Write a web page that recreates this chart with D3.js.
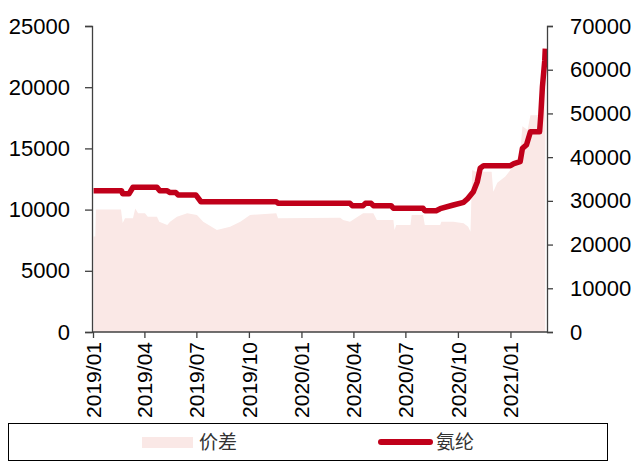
<!DOCTYPE html>
<html><head><meta charset="utf-8">
<script src="https://cdn.jsdelivr.net/npm/d3@7"></script>
<style>body{margin:0;background:#fff}svg{display:block}</style>
</head><body>
<svg id="c" width="632" height="466"></svg>
<script>
// 价差 (left axis) : [date, value]
const spreadDates = ["2019-01-02","2019-01-05","2019-01-06","2019-02-19","2019-02-22","2019-02-26","2019-03-12","2019-03-16","2019-03-21","2019-04-02","2019-04-07","2019-04-23","2019-04-27","2019-05-11","2019-05-16","2019-05-28","2019-06-15","2019-07-02","2019-07-13","2019-08-06","2019-08-29","2019-09-16","2019-10-03","2019-11-18","2019-11-21","2020-03-09","2020-03-14","2020-03-26","2020-04-18","2020-05-06","2020-05-12","2020-06-10","2020-06-12","2020-06-15","2020-07-10","2020-07-12","2020-08-01","2020-08-04","2020-08-31","2020-09-02","2020-09-23","2020-10-11","2020-10-19","2020-10-23","2020-10-26","2020-11-01","2020-11-29","2020-12-02","2020-12-09","2020-12-23","2021-01-01","2021-01-10","2021-01-18","2021-01-22","2021-01-31","2021-02-05","2021-02-19","2021-02-22","2021-02-26","2021-03-03"];
const spreadValues = [7800,7800,10000,10000,8900,9300,9300,10100,9700,9700,9420,9420,9000,8740,9000,9420,9700,9560,9010,8330,8600,9010,9560,9700,9290,9340,9150,9010,9700,9700,9150,9150,8330,8740,8740,9560,9560,8740,8740,9010,9010,8880,8600,8190,13240,13100,13100,11460,12200,12700,13240,13800,14600,16800,16500,17700,17700,18000,20300,21000];

// 氨纶 (right axis)
const spandexDates = ["2019-01-02","2019-02-20","2019-02-22","2019-03-05","2019-03-12","2019-04-23","2019-04-28","2019-05-11","2019-05-16","2019-05-26","2019-05-30","2019-06-30","2019-07-09","2019-11-18","2019-11-21","2020-03-26","2020-03-30","2020-04-18","2020-04-22","2020-05-02","2020-05-06","2020-06-06","2020-06-10","2020-08-01","2020-08-04","2020-08-24","2020-08-31","2020-09-23","2020-10-11","2020-10-18","2020-10-28","2020-11-04","2020-11-09","2020-11-15","2021-01-01","2021-01-07","2021-01-18","2021-01-22","2021-01-29","2021-02-05","2021-02-21","2021-02-23","2021-02-26","2021-03-02","2021-03-03"];
const spandexValues = [32300,32300,31600,31600,33100,33100,32300,32300,31900,31900,31350,31350,29800,29800,29440,29440,28900,28900,29440,29440,28900,28900,28300,28300,27750,27750,28200,29050,29670,30500,32100,34390,37450,38050,38050,38500,38960,42030,42780,45820,45820,49260,56120,62000,64800];

const tickMonths = ["2019-01-01","2019-04-01","2019-07-01","2019-10-01","2020-01-01","2020-04-01","2020-07-01","2020-10-01","2021-01-01"];
const leftTicks = [0,5000,10000,15000,20000,25000];
const rightTicks = [0,10000,20000,30000,40000,50000,60000,70000];
const seriesNames = ["价差","氨纶"];

const parse = d3.timeParse("%Y-%m-%d");
const fmt = d3.timeFormat("%Y/%m");
const svg = d3.select("#c");
const font = "'Liberation Sans', Arial, sans-serif";

const x = d3.scaleTime().domain([parse("2019-01-01"), parse("2021-03-06")]).range([93, 547]);
const yL = d3.scaleLinear().domain([0,25000]).range([332,26]);
const yR = d3.scaleLinear().domain([0,70000]).range([332,26]);

const spread = spreadDates.map((d,i)=>({d:parse(d), v:spreadValues[i]}));
const spandex = spandexDates.map((d,i)=>({d:parse(d), v:spandexValues[i]}));

const fillColor = "#fae8e6", lineColor = "#c0001a";

svg.append("path").datum(spread)
  .attr("fill", fillColor)
  .attr("d", d3.area().x(p=>x(p.d)).y0(yL(0)).y1(p=>yL(p.v)));

svg.append("path").datum(spandex)
  .attr("fill","none").attr("stroke", lineColor).attr("stroke-width",5.5)
  .attr("stroke-linejoin","round")
  .attr("d", d3.line().x(p=>x(p.d)).y(p=>yR(p.v)));

// axes
const gL = svg.append("g").attr("transform","translate(92,0)")
  .call(d3.axisLeft(yL).tickValues(leftTicks).tickSize(7).tickPadding(15).tickFormat(d3.format("d")));
const gR = svg.append("g").attr("transform","translate(547,0)")
  .call(d3.axisRight(yR).tickValues(rightTicks).tickSize(6).tickPadding(17).tickFormat(d3.format("d")));
const gB = svg.append("g").attr("transform","translate(0,332)")
  .call(d3.axisBottom(x).tickValues(tickMonths.map(parse)).tickSize(6).tickSizeOuter(0).tickFormat(fmt));

[gL,gR,gB].forEach(g=>{
  g.select(".domain").attr("stroke","#404040").attr("stroke-width",1.3);
  g.selectAll(".tick line").attr("stroke","#404040").attr("stroke-width",1.3);
  g.selectAll("text").attr("font-family",font).attr("fill","#000");
});
gL.selectAll("text").attr("font-size",22);
gR.selectAll("text").attr("font-size",22);
gB.select(".domain").attr("d","M92,0H547");
gB.selectAll(".tick text").attr("font-size",21)
  .attr("text-anchor","end").attr("transform","rotate(-90)")
  .attr("x",-10).attr("y",0).attr("dy","0.35em");

// legend
const lg = svg.append("g");
lg.append("rect").attr("x",8.5).attr("y",423.5).attr("width",599).attr("height",37)
  .attr("fill","none").attr("stroke","#000").attr("stroke-width",1);
lg.append("rect").attr("x",142).attr("y",437).attr("width",51).attr("height",11).attr("fill",fillColor);
lg.append("text").attr("x",199).attr("y",449).text(seriesNames[0])
  .attr("font-family","'Noto Sans CJK SC'").attr("font-size",19).attr("fill","#333");
lg.append("line").attr("x1",381).attr("x2",430).attr("y1",442).attr("y2",442)
  .attr("stroke",lineColor).attr("stroke-width",6).attr("stroke-linecap","round");
lg.append("text").attr("x",436).attr("y",449).text(seriesNames[1])
  .attr("font-family","'Noto Sans CJK SC'").attr("font-size",19).attr("fill","#333");
</script>
</body></html>
